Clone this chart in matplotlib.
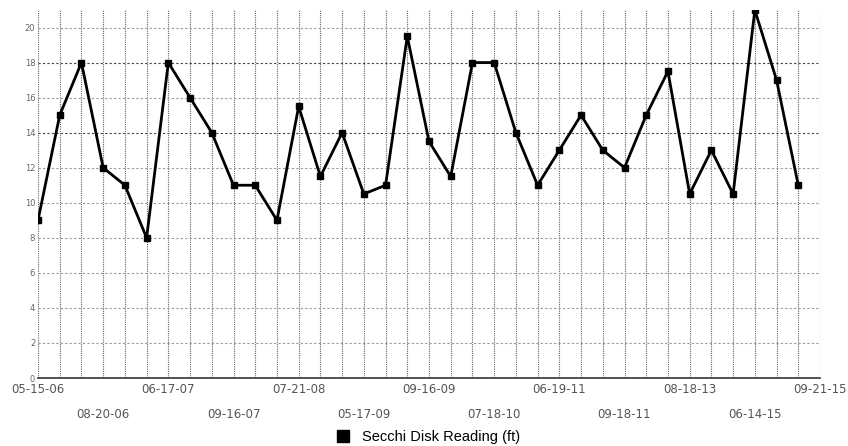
import matplotlib
matplotlib.use('Agg')
import matplotlib.pyplot as plt
from matplotlib.lines import Line2D

# secchi disk readings (ft), one per sample, equally spaced
secchi = [9, 15, 18, 12, 11, 8, 18, 16, 14, 11, 11, 9, 15.5, 11.5, 14, 10.5, 11, 19.5,
          13.5, 11.5, 18, 18, 14, 11, 13, 15, 13, 12, 15, 17.5, 10.5, 13, 10.5, 21, 17, 11]

tick_labels = ['05-15-06', '08-20-06', '06-17-07', '09-16-07', '07-21-08', '05-17-09',
               '09-16-09', '07-18-10', '06-19-11', '09-18-11', '08-18-13', '06-14-15',
               '09-21-15']
y_ticks = [0, 2, 4, 6, 8, 10, 12, 14, 16, 18, 20]

fig = plt.figure(figsize=(8.48, 4.46), dpi=100)
ax = fig.add_axes([38/848, 1 - 378/446, (820-38)/848, (378-10)/446])

n = len(secchi)
xs = list(range(n))

# grid
for x in range(n + 1):
    ax.axvline(x, color='#666666', lw=0.8, ls=(0, (1, 1)), zorder=1)
for y in y_ticks[1:]:
    c = '#444444' if y in (14, 18) else '#999999'
    ax.axhline(y, color=c, lw=0.8, ls=(0, (2, 2)), zorder=1)

ax.plot(xs, secchi, color='black', lw=2, marker='s', markersize=4, zorder=3)

ax.set_xlim(0, n)
ax.set_ylim(0, 21)

for s in ['top', 'right', 'left']:
    ax.spines[s].set_visible(False)
ax.spines['bottom'].set_color('#333333')
ax.spines['bottom'].set_linewidth(1.2)

ax.set_yticks(y_ticks)
ax.set_yticklabels([str(v) for v in y_ticks], fontsize=6, color='#666666')
ax.tick_params(axis='y', length=0, pad=2)

tick_pos = list(range(0, n, 3)) + [n]
ax.set_xticks(tick_pos)
ax.set_xticklabels([])
ax.tick_params(axis='x', length=0)
for k, (p, lab) in enumerate(zip(tick_pos, tick_labels)):
    off = -8.6 if k % 2 == 0 else -26.6
    ax.annotate(lab, (p, 0), xytext=(0, off), textcoords='offset points',
                ha='center', va='center', fontsize=8.5, color='#555555',
                annotation_clip=False)

handle = Line2D([], [], color='black', marker='s', ls='none', markersize=9)
fig.legend([handle], ['Secchi Disk Reading (ft)'], loc='center',
           bbox_to_anchor=(0.5, 1 - 437/446), frameon=False,
           prop={'family': 'Liberation Sans', 'size': 10.5},
           handletextpad=0.3, borderaxespad=0)

fig.savefig('out.png', dpi=100)
